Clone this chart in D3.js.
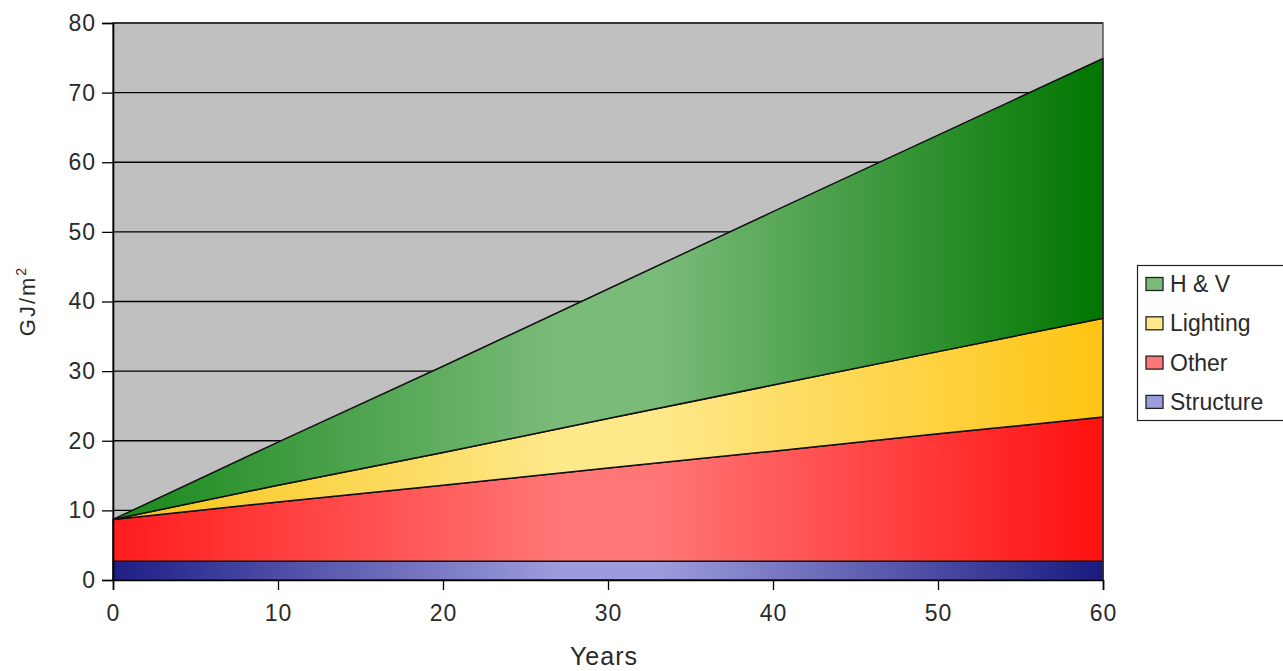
<!DOCTYPE html>
<html>
<head>
<meta charset="utf-8">
<script src="https://cdn.jsdelivr.net/npm/d3@7/dist/d3.min.js"></script>
<style>
  html, body { margin: 0; padding: 0; background: #ffffff; }
  svg { display: block; font-family: "Liberation Sans", Arial, sans-serif; }
</style>
</head>
<body>
<svg id="chart" width="1283" height="671"></svg>
<script>
// Life-cycle energy per floor area, stacked by component (GJ/m²)
const years = [0, 10, 20, 30, 40, 50, 60];
const structure = [2.7, 2.7, 2.7, 2.7, 2.7, 2.7, 2.7];
const other     = [6.0, 8.5, 10.9, 13.4, 15.8, 18.3, 20.7];
const lighting  = [0.0, 2.4, 4.7, 7.1, 9.5, 11.8, 14.2];
const hv        = [0.0, 6.2, 12.4, 18.6, 24.9, 31.1, 37.3];
const seriesNames = ["Structure", "Other", "Lighting", "H & V"];
const yTicks = [0, 10, 20, 30, 40, 50, 60, 70, 80];
const xTicks = [0, 10, 20, 30, 40, 50, 60];

// gradient colours per series: edge, centre, edge
const palette = {
  "Structure": ["#1e1e86", "#9c9cdc", "#1a1a80"],
  "Other":     ["#ff1c1c", "#ff7676", "#ff1010"],
  "Lighting":  ["#f8c414", "#fde88a", "#ffc412"],
  "H & V":     ["#18881a", "#7abb7a", "#007600"]
};

const rows = years.map((yr, i) => ({
  year: yr,
  "Structure": structure[i],
  "Other": other[i],
  "Lighting": lighting[i],
  "H & V": hv[i]
}));

const svg = d3.select("#chart");
const plotLeft = 113, plotRight = 1103, plotTop = 23, plotBottom = 580;
const textColor = "#2a2a2a";

const x = d3.scaleLinear().domain([0, 60]).range([plotLeft, plotRight]);
const y = d3.scaleLinear().domain([0, 80]).range([plotBottom, plotTop]);

const defs = svg.append("defs");
seriesNames.forEach((name, i) => {
  const c = palette[name];
  const g = defs.append("linearGradient")
    .attr("id", "grad" + i)
    .attr("gradientUnits", "userSpaceOnUse")
    .attr("x1", plotLeft).attr("x2", plotRight).attr("y1", 0).attr("y2", 0);
  g.append("stop").attr("offset", "0%").attr("stop-color", c[0]);
  g.append("stop").attr("offset", "45%").attr("stop-color", c[1]);
  g.append("stop").attr("offset", "55%").attr("stop-color", c[1]);
  g.append("stop").attr("offset", "100%").attr("stop-color", c[2]);
});

// plot background
svg.append("rect")
  .attr("x", plotLeft).attr("y", plotTop)
  .attr("width", plotRight - plotLeft).attr("height", plotBottom - plotTop)
  .attr("fill", "#c0c0c0");

// gridlines
svg.append("g")
  .selectAll("line")
  .data(yTicks.filter(t => t > 0))
  .join("line")
  .attr("x1", plotLeft).attr("x2", plotRight)
  .attr("y1", d => y(d)).attr("y2", d => y(d))
  .attr("stroke", "#000").attr("stroke-width", 1.3);

// stacked areas
const stack = d3.stack().keys(seriesNames);
const layers = stack(rows);
const area = d3.area()
  .x(d => x(d.data.year))
  .y0(d => y(d[0]))
  .y1(d => y(d[1]));

svg.append("g")
  .selectAll("path")
  .data(layers)
  .join("path")
  .attr("d", area)
  .attr("fill", (d, i) => `url(#grad${i})`)
  .attr("stroke", "#111")
  .attr("stroke-width", 1.5)
  .attr("stroke-linejoin", "round");

// plot frame
svg.append("rect")
  .attr("x", plotLeft).attr("y", plotTop)
  .attr("width", plotRight - plotLeft).attr("height", plotBottom - plotTop)
  .attr("fill", "none")
  .attr("stroke", "#333").attr("stroke-width", 1.2);

// axes
const yAxis = d3.axisLeft(y).tickValues(yTicks).tickSize(11).tickPadding(6);
const gy = svg.append("g").attr("transform", `translate(${plotLeft},0)`).call(yAxis);
gy.select(".domain").attr("stroke", "#000").attr("stroke-width", 1.6);
gy.selectAll(".tick line").attr("stroke", "#000").attr("stroke-width", 1.3);
gy.selectAll("text")
  .attr("font-size", 23).attr("fill", textColor).attr("letter-spacing", 1)
  .attr("font-family", "'Liberation Sans', Arial, sans-serif");

const xAxis = d3.axisBottom(x).tickValues(xTicks).tickSize(10).tickPadding(15);
const gx = svg.append("g").attr("transform", `translate(0,${plotBottom})`).call(xAxis);
gx.select(".domain").attr("stroke", "#000").attr("stroke-width", 1.6);
gx.selectAll(".tick line").attr("stroke", "#000").attr("stroke-width", 1.3);
gx.selectAll("text")
  .attr("font-size", 23).attr("fill", textColor).attr("letter-spacing", 1)
  .attr("font-family", "'Liberation Sans', Arial, sans-serif");

// axis titles
svg.append("text")
  .attr("x", 604).attr("y", 665)
  .attr("text-anchor", "middle")
  .attr("font-size", 25).attr("letter-spacing", 1).attr("fill", textColor)
  .text("Years");

const yt = svg.append("text")
  .attr("transform", "translate(35,301) rotate(-90)")
  .attr("text-anchor", "middle")
  .attr("font-size", 22).attr("letter-spacing", 2).attr("fill", textColor);
yt.append("tspan").text("GJ/m");
yt.append("tspan").attr("dy", -9).attr("font-size", 14).text("2");

// legend
const legend = svg.append("g");
legend.append("rect")
  .attr("x", 1137.5).attr("y", 265.5)
  .attr("width", 160).attr("height", 155)
  .attr("fill", "#fff")
  .attr("stroke", "#222").attr("stroke-width", 1.2);

const legendOrder = ["H & V", "Lighting", "Other", "Structure"];
legendOrder.forEach((name, i) => {
  const c = palette[name];
  const cy = 284 + i * 39.3;
  legend.append("rect")
    .attr("x", 1146).attr("y", cy - 6.5)
    .attr("width", 17).attr("height", 13)
    .attr("fill", c[1])
    .attr("stroke", "#222").attr("stroke-width", 1.3);
  legend.append("text")
    .attr("x", 1170).attr("y", cy + 8)
    .attr("font-size", 23).attr("fill", textColor)
    .text(name);
});
</script>
</body>
</html>
